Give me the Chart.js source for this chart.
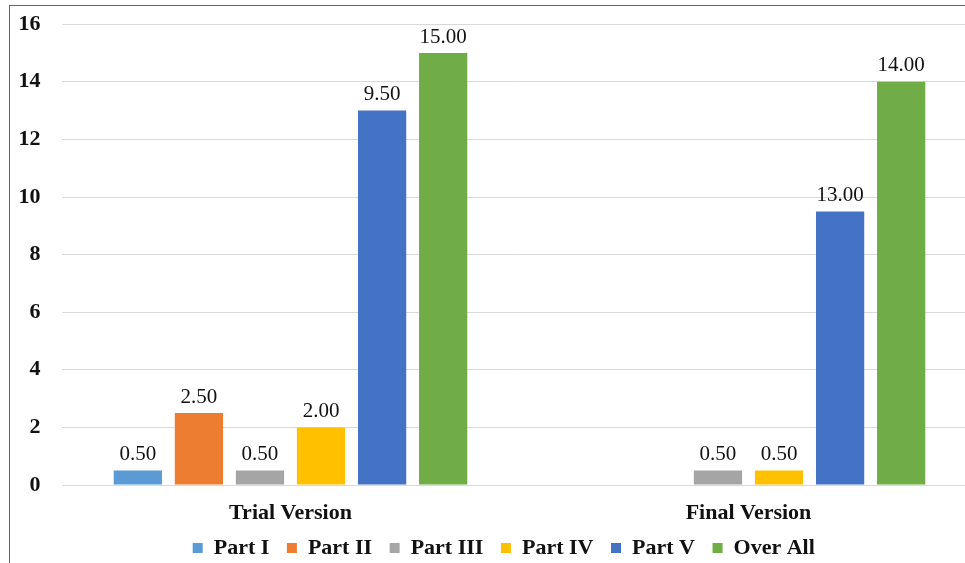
<!DOCTYPE html>
<html>
<head>
<meta charset="utf-8">
<script src="https://cdn.jsdelivr.net/npm/chart.js@4/dist/chart.umd.min.js"></script>
<style>
  html, body { margin: 0; padding: 0; overflow: hidden; background: #fff; }
  #frame { position: absolute; left: 9px; top: 5px; width: 1100px; height: 700px; border: 1.5px solid #666; }
  #wrap { position: absolute; left: 0; top: -10px; width: 990px; height: 579px; }
</style>
</head>
<body>
<div id="frame"></div>
<div id="wrap"><canvas id="chart"></canvas></div>
<script>
const categories = ['Trial Version', 'Final Version'];
const seriesNames = ['Part I', 'Part II', 'Part III', 'Part IV', 'Part V', 'Over All'];
const seriesColors = ['#5B9BD5', '#ED7D31', '#A5A5A5', '#FFC000', '#4472C4', '#70AD47'];
// bar heights per series: [Trial, Final]
const partI = [0.5, 0];
const partII = [2.5, 0];
const partIII = [0.5, 0.5];
const partIV = [2.0, 0.5];
const partV = [13, 9.5];
const overAll = [15, 14];
// data labels as printed on the picture
const labelsI = ['0.50', null];
const labelsII = ['2.50', null];
const labelsIII = ['0.50', '0.50'];
const labelsIV = ['2.00', '0.50'];
const labelsV = ['9.50', '13.00'];
const labelsAll = ['15.00', '14.00'];
const yTicks = [0, 2, 4, 6, 8, 10, 12, 14, 16];

const values = [partI, partII, partIII, partIV, partV, overAll];
const printed = [labelsI, labelsII, labelsIII, labelsIV, labelsV, labelsAll];

const serif = "'Liberation Serif', 'DejaVu Serif', serif";

const barLabels = {
    id: 'barLabels',
    afterDatasetsDraw(chart) {
        const ctx = chart.ctx;
        ctx.save();
        ctx.font = '21px ' + serif;
        ctx.fillStyle = '#111';
        ctx.textAlign = 'center';
        ctx.textBaseline = 'middle';
        chart.data.datasets.forEach((ds, i) => {
            chart.getDatasetMeta(i).data.forEach((bar, j) => {
                const txt = ds.printed[j];
                if (txt) ctx.fillText(txt, bar.x, bar.y - 16);
            });
        });
        ctx.restore();
    }
};

// the legend sits a bit right of the plot centre in the original
const legendShift = {
    id: 'legendShift',
    afterLayout(chart) {
        chart.legend.left += 15;
        chart.legend.right += 15;
    }
};

new Chart(document.getElementById('chart'), {
    type: 'bar',
    data: {
        labels: categories,
        datasets: seriesNames.map((name, i) => ({
            label: name,
            data: values[i],
            printed: printed[i],
            backgroundColor: seriesColors[i],
            categoryPercentage: 0.8,
            barPercentage: 0.79
        }))
    },
    options: {
        responsive: true,
        maintainAspectRatio: false,
        animation: false,
        layout: { padding: { top: 16, left: 0, right: 12.5, bottom: 0 } },
        scales: {
            x: {
                grid: { display: false, drawTicks: false },
                border: { display: false },
                ticks: { color: '#111', padding: 15, font: { family: serif, size: 22, weight: 'bold' } },
                afterFit: scale => { scale.height = 34.4; }
            },
            y: {
                min: 0,
                max: 16,
                afterBuildTicks: scale => { scale.ticks = yTicks.map(v => ({ value: v })); },
                grid: { color: '#d9d9d9', lineWidth: 1, drawTicks: false },
                border: { display: false },
                ticks: { color: '#111', padding: 21, font: { family: serif, size: 22, weight: 'bold' } },
                afterFit: scale => { scale.width = 61.5; }
            }
        },
        plugins: {
            legend: {
                position: 'bottom',
                labels: {
                    color: '#111',
                    boxWidth: 10,
                    boxHeight: 10,
                    padding: 17.6,
                    font: { family: serif, size: 22, weight: 'bold' }
                }
            },
            tooltip: { enabled: false }
        }
    },
    plugins: [barLabels, legendShift]
});
</script>
</body>
</html>
